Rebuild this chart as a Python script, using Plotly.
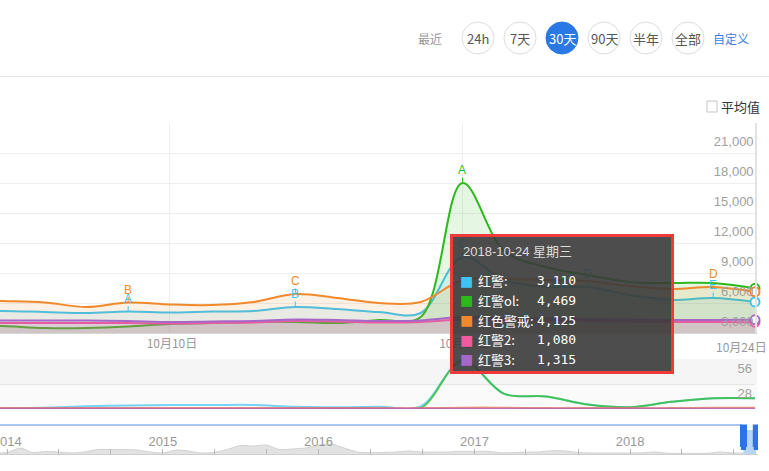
import plotly.graph_objects as go
import pandas as pd

W, H = 769, 471

# ---------------- data ----------------
days = pd.date_range("2018-10-04", "2018-10-24", freq="D").strftime("%Y-%m-%d").tolist()

series_names = ["红警", "红警ol", "红色警戒", "红警2", "红警3"]
series_colors = ["#3dc4f2", "#2cb91c", "#f0892c", "#f05a9e", "#a767c8"]

hongjing = [2200, 2200, 2200, 2100, 2000, 2150, 2050, 2150, 2200, 2600, 2400,
            2100, 2000, 7600, 5300, 4600, 4600, 3800, 3300, 3500, 3110]
hongjing_ol = [900, 800, 700, 500, 500, 650, 900, 1000, 1100, 1100, 1000,
               1300, 1600, 15000, 8200, 6600, 5800, 5100, 5000, 5000, 4469]
hongse_jingjie = [3300, 3300, 3200, 3050, 2600, 3050, 2850, 2800, 3100, 3900, 3500,
                  3000, 3100, 5300, 5400, 5300, 5200, 4700, 4400, 4600, 4125]
hongjing2 = [1050, 1050, 1000, 1000, 1000, 1000, 950, 1000, 1050, 1200, 1150,
             1050, 1100, 1350, 1300, 1250, 1200, 1150, 1100, 1100, 1080]
hongjing3 = [1300, 1300, 1250, 1250, 1250, 1200, 1100, 1150, 1200, 1350, 1300,
             1200, 1250, 1600, 1500, 1450, 1400, 1350, 1300, 1300, 1315]
main_series = [hongjing, hongjing_ol, hongse_jingjie, hongjing2, hongjing3]

# lower (media) chart
media_hongjing = [0, 0, 0.5, 1.5, 3, 4, 4.5, 4.5, 4.5, 2.5, 2, 2.5, 3, 54, 17, 14, 5, 2, 8, 12, 12]
media_ol = [0, 0, 0, 0, 0, 0, 0, 0, 0, 0, 0, 0, 1, 54, 17, 14, 5, 2, 8, 12, 12]
media_jingjie = [1, 1, 1, 1, 1, 1, 1, 1, 1, 1, 1, 1, 1, 1.5, 1.5, 1, 1, 1, 1, 1.5, 1.5]
media_hj2 = [0.5] * 21
media_hj3 = [0.4] * 21
media_series = [media_hongjing, media_ol, media_jingjie, media_hj2, media_hj3]

# flags (series index, date, letter)
flags = [(0, "2018-10-09", "A"), (2, "2018-10-09", "B"),
         (0, "2018-10-13", "B"), (2, "2018-10-13", "C"),
         (1, "2018-10-17", "A"), (0, "2018-10-17", "C"),
         (0, "2018-10-20", "D"),
         (2, "2018-10-23", "D"), (0, "2018-10-23", "E")]

# navigator (whole history, monthly)
nav_months = pd.date_range("2013-12-01", "2018-10-01", freq="MS").strftime("%Y-%m-%d").tolist()
nav_values = [1, 1.5, 6, 1.5, 2.5, 2, 1, 2, 4.5, 4.5, 4.5, 4, 2,
              1, 4, 3, 1, 1.5, 4.5, 8.5, 8, 9, 4.5, 5, 6,
              9, 10, 6, 2, 1.3, 1.5, 2, 3, 2, 2, 2, 2.7,
              2.5, 2.7, 1.3, 1.3, 2, 2, 3.3, 3, 1.5, 1, 1, 1,
              1, 1.2, 2, 0.7, 0.7, 0.7, 0.7, 2, 1, 1]
year_ticks = ["2014-01-01", "2015-01-01", "2016-01-01", "2017-01-01", "2018-01-01"]
year_labels = ["2014", "2015", "2016", "2017", "2018"]

y_ticks = [3000, 6000, 9000, 12000, 15000, 18000, 21000]
media_ticks = [28, 56]
last_day_label = "10月24日"
range_buttons = ["24h", "7天", "30天", "90天", "半年", "全部"]
active_button = "30天"
tooltip_title = "2018-10-24 星期三"


def px(x):
    return x / W


def py(y):
    return 1 - y / H


def rgba(hexc, a):
    h = hexc.lstrip("#")
    r, g, b = int(h[0:2], 16), int(h[2:4], 16), int(h[4:6], 16)
    return f"rgba({r},{g},{b},{a})"


CJK = "Noto Sans CJK SC, Liberation Sans, sans-serif"
NUM = "Liberation Sans, Noto Sans CJK SC, sans-serif"
MONO = "DejaVu Sans Mono, Noto Sans CJK SC, monospace"


def text_ann(x, y, text, size, color, family=CJK, xanchor="center"):
    return dict(xref="paper", yref="paper", x=px(x), y=py(y), text=text,
                xanchor=xanchor, yanchor="middle", showarrow=False,
                font=dict(family=family, size=size, color=color))


fig = go.Figure()

# main area-spline series
for name, vals, col in zip(series_names, main_series, series_colors):
    fig.add_trace(go.Scatter(
        x=days, y=vals, name=name, mode="lines",
        line=dict(color=col, width=2, shape="spline", smoothing=1.0),
        fill="tozeroy", fillcolor=rgba(col, 0.12),
        xaxis="x", yaxis="y", hoverinfo="skip", showlegend=False))
for vals, col in zip(main_series, series_colors):
    fig.add_trace(go.Scatter(
        x=[days[-1]], y=[vals[-1]], mode="markers",
        marker=dict(size=9, color="white", line=dict(color=col, width=2)),
        cliponaxis=False, xaxis="x", yaxis="y", hoverinfo="skip", showlegend=False))

# media chart
for vals, col in zip(media_series, series_colors):
    fig.add_trace(go.Scatter(
        x=days, y=vals, mode="lines",
        line=dict(color=rgba(col, 0.7), width=2, shape="spline", smoothing=1.0),
        xaxis="x2", yaxis="y2", hoverinfo="skip", showlegend=False))

# navigator silhouette
fig.add_trace(go.Scatter(
    x=nav_months, y=nav_values, mode="lines",
    line=dict(color="#d2d2d2", width=1, shape="spline", smoothing=0.6),
    fill="tozeroy", fillcolor="#e2e2e2",
    xaxis="x3", yaxis="y3", hoverinfo="skip", showlegend=False))

shapes = []
annotations = []

# top controls
shapes.append(dict(type="line", xref="paper", yref="paper", x0=0, x1=1,
                   y0=py(76.5), y1=py(76.5), line=dict(color="#e3e3e3", width=1)))
annotations.append(text_ann(430, 38.5, "最近", 12, "#999999"))
btn_cx = [478, 520, 562, 604, 646, 688]
for label, cx in zip(range_buttons, btn_cx):
    active = label == active_button
    shapes.append(dict(type="circle", xref="paper", yref="paper",
                       x0=px(cx - 16), x1=px(cx + 16), y0=py(54), y1=py(22),
                       fillcolor="#2a78e4" if active else "white",
                       line=dict(color="#2a78e4" if active else "#dcdcdc", width=1)))
    annotations.append(text_ann(cx, 38.5, label, 13, "white" if active else "#555555"))
annotations.append(text_ann(731, 38.5, "自定义", 12, "#3b7fe2"))

# average checkbox
shapes.append(dict(type="rect", xref="paper", yref="paper", x0=px(707), x1=px(717),
                   y0=py(112), y1=py(101), line=dict(color="#c4c4c4", width=1), fillcolor="white"))
annotations.append(text_ann(719, 106.5, "平均值", 13, "#333333", xanchor="left"))

# media chart background
shapes.append(dict(type="rect", xref="paper", yref="paper", x0=0, x1=px(757),
                   y0=py(384), y1=py(359), fillcolor="#f5f5f5", line=dict(width=0), layer="below"))
shapes.append(dict(type="rect", xref="paper", yref="paper", x0=0, x1=px(757),
                   y0=py(409), y1=py(384), fillcolor="#fafafa", line=dict(width=0), layer="below"))

# navigator outline + selection + handles
shapes.append(dict(type="line", xref="paper", yref="paper", x0=0, x1=px(742),
                   y0=py(425), y1=py(425), line=dict(color="#a8c4f2", width=2)))
shapes.append(dict(type="rect", xref="x3", yref="paper", x0="2018-09-24", x1="2018-10-24",
                   y0=py(454), y1=py(430), fillcolor="#b9d5f6", line=dict(width=0)))
for anchor in ["2018-09-24", "2018-10-24"]:
    shapes.append(dict(type="rect", xref="x3", yref="paper", xsizemode="pixel", xanchor=anchor,
                       x0=-3.5, x1=3.5, y0=py(447), y1=py(424.5),
                       fillcolor="#2a74e8", line=dict(width=0)))
    shapes.append(dict(type="rect", xref="x3", yref="paper", xsizemode="pixel", xanchor=anchor,
                       x0=-2.5, x1=2.5, y0=py(450), y1=py(447),
                       fillcolor="#2a74e8", line=dict(width=0)))

# last x label (edge label, kept inside the page)
annotations.append(dict(xref="x", yref="paper", x=days[-1], y=py(346), text=last_day_label,
                        xanchor="right", yanchor="middle", xshift=14, showarrow=False,
                        font=dict(family=CJK, size=12, color="#999999")))

# flags
day_index = {d: i for i, d in enumerate(days)}
for si, d, letter in flags:
    col = series_colors[si]
    annotations.append(dict(xref="x", yref="y", x=d, y=main_series[si][day_index[d]],
                            text=letter, showarrow=True, arrowhead=0, arrowwidth=1,
                            arrowcolor=col, ax=0, ay=-13, borderpad=0,
                            font=dict(family=NUM, size=12, color=col)))

# tooltip box
annotations.append(dict(xref="paper", yref="paper", x=px(561.5), y=py(303.5), text=" ",
                        showarrow=False, width=218, height=134, borderpad=0,
                        bgcolor="rgba(58,58,58,0.9)", bordercolor="#f03a3a", borderwidth=3,
                        xanchor="center", yanchor="middle"))
annotations.append(text_ann(461, 251, tooltip_title, 13, "#dddddd", family=NUM, xanchor="left"))
for i, (name, vals, col) in enumerate(zip(series_names, main_series, series_colors)):
    ry = 280.7 + i * 19.65
    annotations.append(text_ann(466.5, ry, "■", 14, col, family="DejaVu Sans"))
    annotations.append(text_ann(476, ry, name + ":", 13, "white", xanchor="left"))
    annotations.append(text_ann(578, ry, f"{vals[-1]:,}", 13, "white", family=MONO,
                                xanchor="right"))

fig.update_layout(
    width=W, height=H, margin=dict(l=0, r=0, t=0, b=0, autoexpand=False),
    paper_bgcolor="white", plot_bgcolor="rgba(0,0,0,0)",
    hovermode=False, showlegend=False,
    shapes=shapes, annotations=annotations,
    xaxis=dict(domain=[0, 755 / W], anchor="y", type="date", automargin=False,
               range=["2018-10-05 22:24", "2018-10-24 00:00:05"],
               tick0="2018-10-10", dtick=7 * 86400000, tickformat="%-m月%-d日",
               showgrid=True, gridcolor="#eeeeee", gridwidth=1,
               showline=True, linecolor="#d6d6d6", linewidth=1,
               ticks="", tickfont=dict(family=CJK, size=12, color="#999999"),
               ticklabelshift=2,
               zeroline=False, fixedrange=True),
    yaxis=dict(domain=[py(333), py(123)], anchor="x", range=[0, 21000], side="right",
               automargin=False,
               tickvals=y_ticks, ticktext=[f"{v:,}" for v in y_ticks],
               ticklabelposition="inside bottom", ticklabelshift=9,
               tickfont=dict(family=NUM, size=13, color="#a0a0a0"),
               showgrid=True, gridcolor="#eeeeee", gridwidth=1,
               showline=True, linecolor="#e2e2e2", linewidth=2,
               zeroline=False, ticks="", fixedrange=True),
    xaxis2=dict(domain=[0, 755 / W], anchor="y2", matches="x", type="date", automargin=False,
                showticklabels=False, showgrid=False, showline=False, zeroline=False, ticks=""),
    yaxis2=dict(domain=[py(409), py(359)], anchor="x2", range=[0, 56], side="right",
                automargin=False,
                tickvals=media_ticks, ticktext=[str(v) for v in media_ticks],
                ticklabelposition="inside bottom",
                tickfont=dict(family=NUM, size=13, color="#a0a0a0"),
                showgrid=True, gridcolor="#e6e6e6", gridwidth=1,
                showline=False, zeroline=False, ticks=""),
    xaxis3=dict(domain=[0, 758 / W], anchor="y3", type="date", automargin=False,
                range=["2013-12-15", "2018-10-28"],
                tickvals=year_ticks, ticktext=year_labels,
                ticks="inside", ticklen=5, tickcolor="#b8b8b8",
                minor=dict(tick0="2014-01-01", dtick="M4", ticks="inside", ticklen=5,
                           tickcolor="#b8b8b8", showgrid=False),
                ticklabelposition="inside", ticklabeloverflow="allow",
                tickfont=dict(family=NUM, size=13, color="#999999"),
                showgrid=False, showline=True, linecolor="#cfcfcf", linewidth=1, zeroline=False),
    yaxis3=dict(domain=[py(454), py(425)], anchor="x3", range=[0, 29], visible=False,
                automargin=False),
)

fig.write_html("out.html")
